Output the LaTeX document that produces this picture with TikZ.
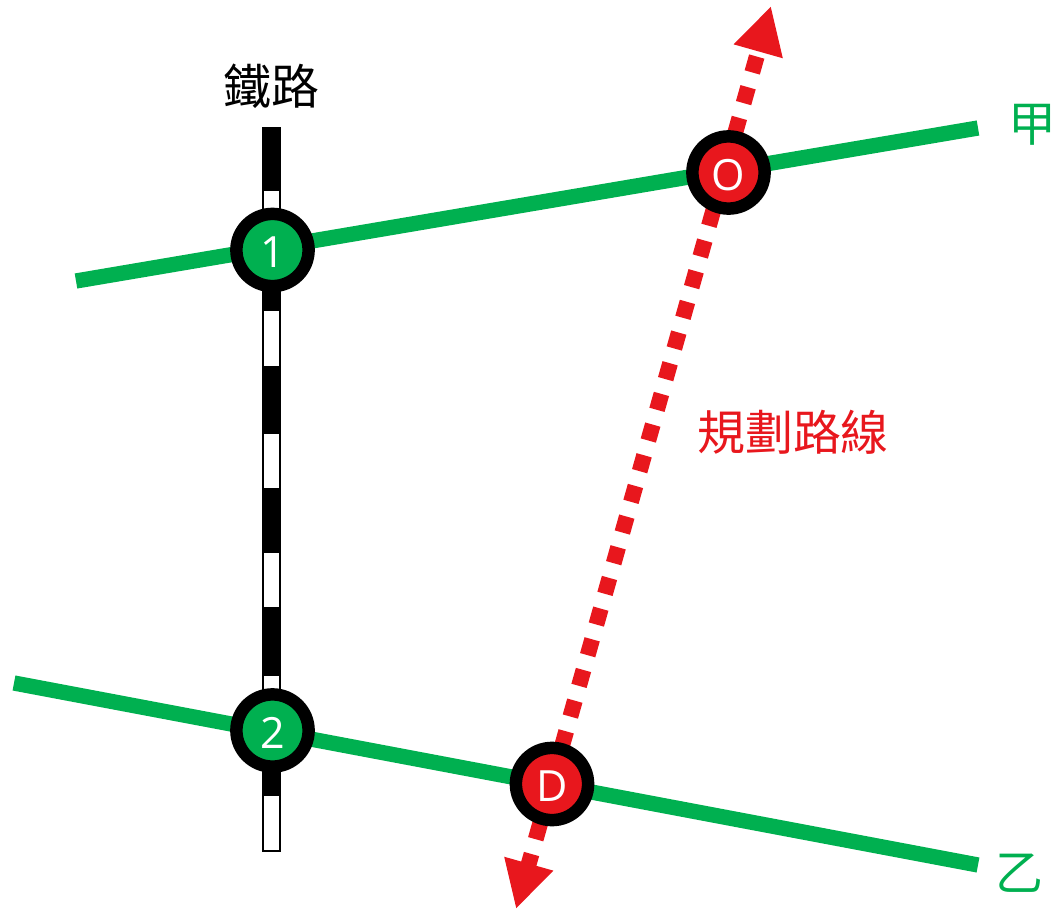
\documentclass[tikz,border=0pt]{standalone}
\usepackage{fontspec}
\setmainfont{Open Sans}
\newfontfamily\cjk{Noto Sans CJK TC}
\usetikzlibrary{arrows.meta}

\definecolor{linegreen}{HTML}{00B050}
\definecolor{routered}{HTML}{E8171D}

\tikzset{
  station/.style={circle,draw=black,line width=7.1pt,minimum size=41.1pt,
    inner sep=0pt,text=white,text height=20pt,text depth=0pt,
    font=\fontsize{24.5}{24.5}\selectfont},
  greenline/.style={draw=linegreen,line width=8.7pt},
  routeline/.style={draw=routered,line width=9pt,
    dash pattern=on 9.4pt off 8.74pt,dash phase=2pt,
    {Triangle[length=26.8pt,width=27pt]}-{Triangle[length=26.8pt,width=27pt]}},
  label/.style={font=\cjk\fontsize{27.3}{27.3}\selectfont},
  railwhite/.style={draw=black,line width=1.2pt,fill=white},
  railblack/.style={draw=black,line width=1.2pt,fill=black}
}

\begin{document}
\begin{tikzpicture}[x=0.02cm,y=-0.02cm]

    \useasboundingbox (0,0) rectangle (1055,909);

    % railway
    \filldraw[railwhite] (263,128) rectangle (280,851);

    \foreach \a/\b in {128/190,248/310,367/433,489/552,608/675,732/795}
    {
      \filldraw[railblack] (263,\a) rectangle (280,\b);
    }

    \node[label] (rail) at (271,86) {鐵路};

    % the two lines and the route
    \coordinate (jiaW) at (76,281);
    \coordinate (jiaE) at (978,128);
    \coordinate (yiW) at (14,683);
    \coordinate (yiE) at (978,865);
    \coordinate (routeS) at (516,909);
    \coordinate (routeN) at (771,6);

    \draw[greenline] (jiaW) -- (jiaE);
    \draw[greenline] (yiW) -- (yiE);
    \draw[routeline] (routeS) -- (routeN);

    \node[station,fill=linegreen] (one) at (272.5,250) {1};
    \node[station,fill=linegreen] (two) at (272.5,730.5) {2};
    \node[station,fill=routered] (orig) at (728.5,172.5) {O};
    \node[station,fill=routered] (dest) at (552,784) {D};

    \node[label,text=linegreen] (jia) at (1032,125) {甲};
    \node[label,text=linegreen] (yi) at (1019,873) {乙};
    \node[label,text=routered] (route) at (793,432) {規劃路線};

\end{tikzpicture}
\end{document}
